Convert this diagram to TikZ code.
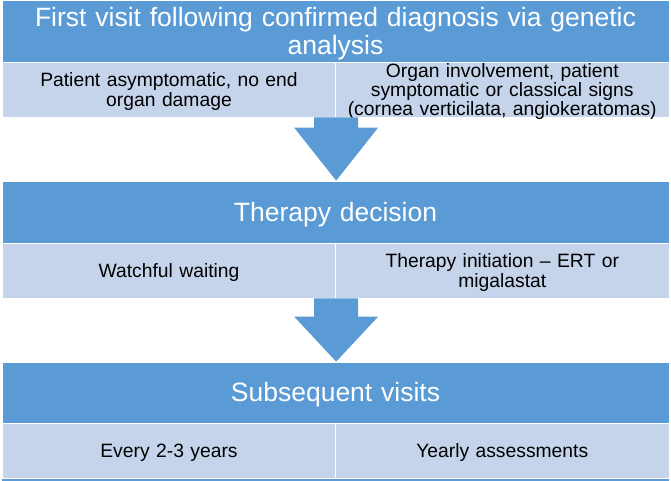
\documentclass[tikz,border=0pt]{standalone}
\usepackage{fontspec}
\setmainfont{Liberation Sans}
\usetikzlibrary{calc}
\definecolor{hdrblue}{HTML}{5B9BD5}
\definecolor{cellblue}{HTML}{C5D4EA}
\tikzset{
  hdr/.style={fill=hdrblue, draw=white, line width=0.8pt, minimum width=667pt, inner sep=0pt},
  hdrtext/.style={inner sep=0pt, text width=650pt, align=center, text=white,
    font=\fontsize{26.5}{28}\selectfont, yshift=-2.5pt},
  cell/.style={fill=cellblue, draw=white, line width=0.8pt, minimum width=333.5pt, minimum height=55pt, inner sep=0pt},
  celltext/.style={inner sep=0pt, text width=328pt, align=center, text=black,
    font=\fontsize{19.3}{19.3}\selectfont, yshift=-2pt},
  blockarrow/.style={fill=hdrblue}
}
\begin{document}
\begin{tikzpicture}[x=1pt,y=-1pt]
\useasboundingbox (0,0) rectangle (671,480);
% row 1
\node[hdr, minimum height=62pt,
  label={[hdrtext]center:{First visit following confirmed diagnosis via genetic\\analysis}}] (h1) at (335.5,31) {};
\node[cell, label={[celltext]center:{Patient asymptomatic, no end\\organ damage}}] (l1) at (169,89.5) {};
\node[cell, label={[celltext]center:{Organ involvement, patient\\symptomatic or classical signs\\(cornea verticilata, angiokeratomas)}}] (r1) at (502.25,89.5) {};
% row 2
\node[hdr, minimum height=62pt, label={[hdrtext]center:{Therapy decision}}] (h2) at (335.5,212) {};
\node[cell, label={[celltext]center:{Watchful waiting}}] (l2) at (169,270.5) {};
\node[cell, label={[celltext]center:{Therapy initiation -- ERT or\\migalastat}}] (r2) at (502.25,270.5) {};
% row 3
\node[hdr, minimum height=61pt, label={[hdrtext]center:{Subsequent visits}}] (h3) at (335.5,392.5) {};
\node[cell, label={[celltext]center:{Every 2-3 years}}] (l3) at (169,450.5) {};
\node[cell, label={[celltext]center:{Yearly assessments}}] (r3) at (502.25,450.5) {};
% thin bottom strip
\fill[hdrblue] ($(l3.south west)+(0,0.4)$) rectangle ($(r3.south east)+(0,2.5)$);
% block arrows
\fill[blockarrow] let \p1=(l1.south east), \p2=(h2.north) in
  (\x1-22pt,\y1) -- (\x1+22pt,\y1) -- (\x1+22pt,\y2+53pt) -- (\x1+42pt,\y2+53pt)
  -- (\x1,\y2) -- (\x1-42pt,\y2+53pt) -- (\x1-22pt,\y2+53pt) -- cycle;
\fill[blockarrow] let \p1=(l2.south east), \p2=(h3.north) in
  (\x1-22pt,\y1) -- (\x1+22pt,\y1) -- (\x1+22pt,\y2+45pt) -- (\x1+42pt,\y2+45pt)
  -- (\x1,\y2) -- (\x1-42pt,\y2+45pt) -- (\x1-22pt,\y2+45pt) -- cycle;
\end{tikzpicture}
\end{document}
